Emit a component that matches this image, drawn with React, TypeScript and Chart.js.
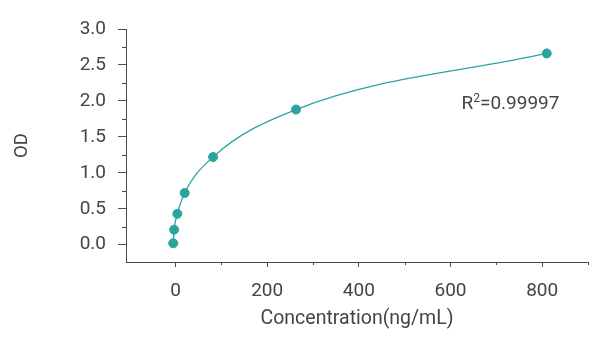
import React, { useEffect, useRef } from "react";
import { Chart, registerables } from "chart.js";

Chart.register(...registerables);

const concentrations = [-5, -3, 4, 20, 82, 263, 810];
const odValues = [0.02, 0.21, 0.43, 0.72, 1.22, 1.88, 2.66];
const xTickValues = [0, 200, 400, 600, 800];
const xMinorTicks = [100, 300, 500, 700, 900];
const yTickValues = [0, 0.5, 1.0, 1.5, 2.0, 2.5, 3.0];
const yMinorTicks = [0.25, 0.75, 1.25, 1.75, 2.25, 2.75];
const xTitle = "Concentration(ng/mL)";
const yTitle = "OD";
const rSquaredLabel = "0.99997";

const TEAL = "#29a59e";
const AXIS = "#4a4a4a";
const TEXT = "#444444";
const FONT = "Roboto";

const minorTickPlugin = {
  id: "minorTicks",
  afterDraw(chart: any) {
    const { ctx } = chart;
    const xs = chart.scales.x;
    const ys = chart.scales.y;
    ctx.save();
    ctx.strokeStyle = AXIS;
    ctx.lineWidth = 1;
    const yAxisX = chart.chartArea.left;
    yMinorTicks.forEach((v) => {
      const py = Math.round(ys.getPixelForValue(v)) + 0.5;
      ctx.beginPath();
      ctx.moveTo(yAxisX - 4, py);
      ctx.lineTo(yAxisX, py);
      ctx.stroke();
    });
    const xAxisY = chart.chartArea.bottom;
    xMinorTicks.forEach((v) => {
      const px = Math.round(xs.getPixelForValue(v)) + 0.5;
      ctx.beginPath();
      ctx.moveTo(px, xAxisY);
      ctx.lineTo(px, xAxisY + 3);
      ctx.stroke();
    });
    // R² annotation
    const ax = xs.getPixelForValue(624);
    const ay = ys.getPixelForValue(1.885);
    ctx.fillStyle = TEXT;
    ctx.textBaseline = "alphabetic";
    ctx.textAlign = "left";
    ctx.font = `19px ${FONT}`;
    ctx.fillText("R", ax, ay);
    const rW = ctx.measureText("R").width;
    ctx.font = `12px ${FONT}`;
    ctx.fillText("2", ax + rW, ay - 7);
    const sW = ctx.measureText("2").width;
    ctx.font = `19px ${FONT}`;
    ctx.fillText("=" + rSquaredLabel, ax + rW + sW, ay);
    ctx.restore();
  },
};

export default function App() {
  const ref = useRef<HTMLCanvasElement>(null);
  useEffect(() => {
    document.body.style.margin = "0";
    const canvas = ref.current!;
    const chart = new Chart(canvas, {
      type: "line",
      data: {
        datasets: [
          {
            data: concentrations.map((c, i) => ({ x: c, y: odValues[i] })),
            borderColor: TEAL,
            backgroundColor: TEAL,
            borderWidth: 1.3,
            pointRadius: 4.5,
            pointBorderWidth: 1,
            pointBackgroundColor: TEAL,
            pointBorderColor: TEAL,
            cubicInterpolationMode: "monotone",
            fill: false,
          },
        ],
      },
      options: {
        responsive: false,
        animation: false,
        devicePixelRatio: 1,
        layout: { padding: { top: 29, right: 12, left: 0, bottom: 0 } },
        plugins: { legend: { display: false }, tooltip: { enabled: false } },
        scales: {
          x: {
            type: "linear",
            min: -108,
            max: 900,
            grid: { drawOnChartArea: false, drawTicks: true, tickLength: 5, color: AXIS },
            border: { display: true, color: AXIS, width: 1 },
            ticks: {
              color: TEXT,
              font: { family: FONT, size: 19 },
              padding: 13,
              maxRotation: 0,
              callback: (v: any) => String(v),
            },
            afterBuildTicks: (s: any) => {
              s.ticks = xTickValues.map((v) => ({ value: v }));
            },
            afterFit: (s: any) => {
              s.height = 91;
            },
            title: {
              display: true,
              text: xTitle,
              color: TEXT,
              font: { family: FONT, size: 19.5 },
              padding: { top: 0, bottom: 22 },
            },
          },
          y: {
            type: "linear",
            min: -0.24,
            max: 3.0,
            grid: { drawOnChartArea: false, drawTicks: true, tickLength: 8, color: AXIS },
            border: { display: true, color: AXIS, width: 1 },
            ticks: {
              color: TEXT,
              font: { family: FONT, size: 19 },
              padding: 12,
              callback: (v: any) => Number(v).toFixed(1),
            },
            afterBuildTicks: (s: any) => {
              s.ticks = yTickValues.map((v) => ({ value: v }));
            },
            afterFit: (s: any) => {
              s.width = 126;
            },
            title: {
              display: true,
              text: yTitle,
              color: TEXT,
              font: { family: FONT, size: 18.5 },
              padding: { top: 11, bottom: 0 },
            },
          },
        },
      },
      plugins: [minorTickPlugin],
    });
    return () => chart.destroy();
  }, []);
  return (
    <div style={{ width: 600, height: 353, background: "#fff" }}>
      <canvas ref={ref} width={600} height={353} style={{ width: 600, height: 353 }} />
    </div>
  );
}
